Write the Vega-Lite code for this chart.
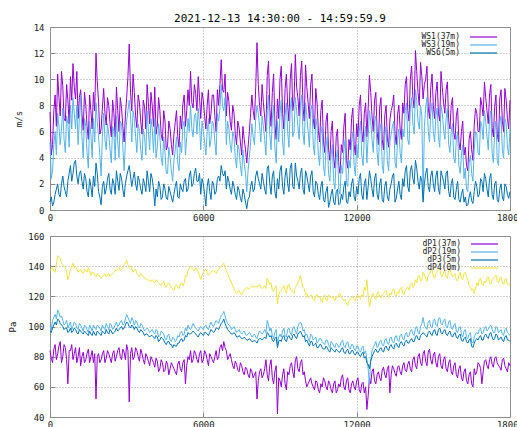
{
"$schema": "https://vega.github.io/schema/vega-lite/v6.json",
"background": "white",
"padding": {"left": 8, "top": 12, "right": 0, "bottom": 0},
"data": {"values": [
{"t":0,"a":7.5,"b":5.2,"c":0.6,"p1":84,"p2":100,"p3":97,"p4":137},
{"t":50,"a":4.2,"b":2.4,"c":1.0,"p1":79,"p2":98,"p3":96,"p4":138},
{"t":100,"a":5.0,"b":3.0,"c":0.3,"p1":76,"p2":104,"p3":99,"p4":139},
{"t":150,"a":7.6,"b":5.0,"c":0.6,"p1":85,"p2":106,"p3":101,"p4":137},
{"t":200,"a":8.8,"b":6.0,"c":1.2,"p1":88,"p2":108,"p3":103,"p4":136},
{"t":250,"a":6.4,"b":4.2,"c":1.6,"p1":78,"p2":105,"p3":101,"p4":141},
{"t":300,"a":10.4,"b":7.4,"c":2.0,"p1":82,"p2":111,"p3":105,"p4":147},
{"t":350,"a":8.6,"b":6.4,"c":1.2,"p1":87,"p2":109,"p3":104,"p4":146},
{"t":400,"a":7.2,"b":5.0,"c":1.0,"p1":90,"p2":106,"p3":102,"p4":145},
{"t":450,"a":10.6,"b":6.2,"c":2.0,"p1":76,"p2":107,"p3":101,"p4":142},
{"t":500,"a":9.5,"b":7.8,"c":2.6,"p1":80,"p2":104,"p3":100,"p4":141},
{"t":550,"a":7.0,"b":5.4,"c":1.8,"p1":88,"p2":101,"p3":98,"p4":140},
{"t":600,"a":6.8,"b":4.4,"c":1.4,"p1":86,"p2":102,"p3":99,"p4":139},
{"t":650,"a":9.6,"b":7.2,"c":1.0,"p1":78,"p2":104,"p3":99,"p4":136},
{"t":700,"a":8.4,"b":6.6,"c":2.2,"p1":62,"p2":99,"p3":96,"p4":131},
{"t":750,"a":6.6,"b":4.8,"c":2.8,"p1":84,"p2":101,"p3":97,"p4":134},
{"t":800,"a":10.2,"b":8.0,"c":3.4,"p1":84,"p2":103,"p3":99,"p4":138},
{"t":850,"a":8.4,"b":6.2,"c":2.2,"p1":88,"p2":98,"p3":96,"p4":140},
{"t":900,"a":11.2,"b":8.6,"c":2.8,"p1":78,"p2":100,"p3":97,"p4":142},
{"t":950,"a":9.4,"b":7.4,"c":3.6,"p1":82,"p2":103,"p3":99,"p4":139},
{"t":1000,"a":8.5,"b":6.2,"c":3.8,"p1":86,"p2":102,"p3":98,"p4":140},
{"t":1050,"a":10.6,"b":8.0,"c":2.6,"p1":76,"p2":99,"p3":96,"p4":138},
{"t":1100,"a":7.0,"b":5.0,"c":2.0,"p1":80,"p2":98,"p3":95,"p4":136},
{"t":1150,"a":8.6,"b":7.0,"c":2.8,"p1":86,"p2":102,"p3":98,"p4":137},
{"t":1200,"a":9.2,"b":8.8,"c":3.0,"p1":74,"p2":101,"p3":97,"p4":138},
{"t":1250,"a":7.4,"b":5.6,"c":2.2,"p1":80,"p2":99,"p3":96,"p4":136},
{"t":1300,"a":6.1,"b":4.0,"c":1.6,"p1":83,"p2":97,"p3":95,"p4":135},
{"t":1350,"a":9.0,"b":7.0,"c":2.8,"p1":76,"p2":101,"p3":97,"p4":138},
{"t":1400,"a":8.0,"b":6.4,"c":2.4,"p1":78,"p2":100,"p3":96,"p4":137},
{"t":1450,"a":6.4,"b":4.4,"c":1.4,"p1":82,"p2":98,"p3":95,"p4":136},
{"t":1500,"a":5.4,"b":3.2,"c":1.0,"p1":85,"p2":96,"p3":94,"p4":139},
{"t":1550,"a":8.8,"b":6.8,"c":2.4,"p1":76,"p2":101,"p3":97,"p4":137},
{"t":1600,"a":7.6,"b":5.8,"c":1.8,"p1":80,"p2":99,"p3":95,"p4":134},
{"t":1650,"a":6.2,"b":4.0,"c":1.0,"p1":84,"p2":97,"p3":94,"p4":136},
{"t":1700,"a":9.0,"b":7.0,"c":2.6,"p1":76,"p2":101,"p3":97,"p4":136},
{"t":1750,"a":7.6,"b":5.2,"c":1.8,"p1":82,"p2":99,"p3":95,"p4":134},
{"t":1800,"a":12.0,"b":8.2,"c":3.6,"p1":52,"p2":98,"p3":94,"p4":133},
{"t":1850,"a":9.8,"b":6.8,"c":2.8,"p1":80,"p2":101,"p3":97,"p4":135},
{"t":1900,"a":8.3,"b":5.6,"c":1.4,"p1":82,"p2":100,"p3":96,"p4":134},
{"t":1950,"a":5.8,"b":4.2,"c":1.0,"p1":76,"p2":99,"p3":95,"p4":133},
{"t":2000,"a":6.2,"b":2.6,"c":0.4,"p1":78,"p2":97,"p3":94,"p4":132},
{"t":2050,"a":7.8,"b":5.6,"c":1.8,"p1":82,"p2":101,"p3":97,"p4":133},
{"t":2100,"a":9.3,"b":7.4,"c":2.2,"p1":84,"p2":99,"p3":96,"p4":134},
{"t":2150,"a":7.4,"b":5.4,"c":1.2,"p1":76,"p2":98,"p3":95,"p4":135},
{"t":2200,"a":6.5,"b":4.6,"c":1.6,"p1":79,"p2":102,"p3":98,"p4":133},
{"t":2250,"a":8.6,"b":6.6,"c":2.4,"p1":84,"p2":100,"p3":96,"p4":134},
{"t":2300,"a":8.0,"b":5.8,"c":2.8,"p1":82,"p2":98,"p3":95,"p4":135},
{"t":2350,"a":6.6,"b":4.6,"c":1.6,"p1":79,"p2":102,"p3":98,"p4":133},
{"t":2400,"a":5.6,"b":3.6,"c":1.2,"p1":76,"p2":101,"p3":97,"p4":134},
{"t":2450,"a":8.4,"b":6.4,"c":2.4,"p1":82,"p2":98,"p3":95,"p4":135},
{"t":2500,"a":7.4,"b":6.0,"c":2.0,"p1":84,"p2":99,"p3":96,"p4":136},
{"t":2550,"a":5.6,"b":3.8,"c":1.2,"p1":77,"p2":101,"p3":97,"p4":137},
{"t":2600,"a":9.4,"b":7.2,"c":3.0,"p1":80,"p2":103,"p3":99,"p4":137},
{"t":2650,"a":7.6,"b":5.2,"c":2.2,"p1":84,"p2":100,"p3":97,"p4":138},
{"t":2700,"a":6.0,"b":4.0,"c":1.5,"p1":86,"p2":101,"p3":98,"p4":139},
{"t":2750,"a":8.6,"b":6.8,"c":2.8,"p1":80,"p2":103,"p3":99,"p4":137},
{"t":2800,"a":7.8,"b":6.6,"c":2.4,"p1":78,"p2":104,"p3":100,"p4":138},
{"t":2850,"a":6.4,"b":4.8,"c":1.6,"p1":85,"p2":101,"p3":98,"p4":139},
{"t":2900,"a":5.2,"b":3.0,"c":1.0,"p1":83,"p2":102,"p3":99,"p4":141},
{"t":2950,"a":7.2,"b":5.2,"c":2.0,"p1":78,"p2":105,"p3":101,"p4":142},
{"t":3000,"a":8.6,"b":6.8,"c":2.6,"p1":88,"p2":108,"p3":103,"p4":144},
{"t":3050,"a":10.2,"b":7.6,"c":3.0,"p1":84,"p2":106,"p3":102,"p4":141},
{"t":3100,"a":12.7,"b":8.4,"c":3.4,"p1":50,"p2":104,"p3":100,"p4":139},
{"t":3150,"a":9.0,"b":7.2,"c":2.6,"p1":82,"p2":102,"p3":99,"p4":140},
{"t":3200,"a":7.6,"b":5.2,"c":1.8,"p1":86,"p2":106,"p3":101,"p4":138},
{"t":3250,"a":10.4,"b":7.6,"c":2.4,"p1":78,"p2":104,"p3":100,"p4":136},
{"t":3300,"a":9.0,"b":7.0,"c":2.9,"p1":80,"p2":101,"p3":98,"p4":137},
{"t":3350,"a":7.2,"b":5.6,"c":2.0,"p1":86,"p2":104,"p3":100,"p4":138},
{"t":3400,"a":6.3,"b":4.4,"c":1.5,"p1":84,"p2":103,"p3":99,"p4":135},
{"t":3450,"a":8.8,"b":6.6,"c":2.6,"p1":80,"p2":100,"p3":97,"p4":134},
{"t":3500,"a":8.2,"b":6.0,"c":2.2,"p1":77,"p2":99,"p3":96,"p4":133},
{"t":3550,"a":6.8,"b":4.6,"c":1.6,"p1":85,"p2":102,"p3":98,"p4":135},
{"t":3600,"a":5.8,"b":3.8,"c":1.2,"p1":82,"p2":101,"p3":97,"p4":134},
{"t":3650,"a":8.4,"b":6.2,"c":2.4,"p1":78,"p2":99,"p3":96,"p4":133},
{"t":3700,"a":7.9,"b":5.6,"c":2.0,"p1":75,"p2":97,"p3":94,"p4":132},
{"t":3750,"a":6.2,"b":4.2,"c":1.4,"p1":82,"p2":98,"p3":95,"p4":132},
{"t":3800,"a":9.6,"b":7.6,"c":3.0,"p1":80,"p2":99,"p3":95,"p4":131},
{"t":3850,"a":8.2,"b":6.0,"c":2.2,"p1":77,"p2":98,"p3":94,"p4":131},
{"t":3900,"a":6.6,"b":4.6,"c":1.4,"p1":74,"p2":96,"p3":93,"p4":130},
{"t":3950,"a":9.0,"b":7.0,"c":2.8,"p1":80,"p2":97,"p3":94,"p4":130},
{"t":4000,"a":8.0,"b":6.2,"c":2.4,"p1":78,"p2":98,"p3":94,"p4":131},
{"t":4050,"a":6.4,"b":4.4,"c":1.6,"p1":76,"p2":96,"p3":93,"p4":130},
{"t":4100,"a":9.4,"b":7.0,"c":0.3,"p1":73,"p2":95,"p3":92,"p4":129},
{"t":4150,"a":5.8,"b":4.0,"c":1.6,"p1":79,"p2":98,"p3":94,"p4":131},
{"t":4200,"a":6.5,"b":4.8,"c":1.0,"p1":77,"p2":97,"p3":93,"p4":130},
{"t":4250,"a":8.6,"b":6.6,"c":2.2,"p1":70,"p2":93,"p3":90,"p4":129},
{"t":4300,"a":7.6,"b":5.6,"c":1.8,"p1":72,"p2":94,"p3":91,"p4":128},
{"t":4350,"a":5.8,"b":4.0,"c":0.8,"p1":78,"p2":97,"p3":93,"p4":127},
{"t":4400,"a":5.3,"b":3.4,"c":1.0,"p1":76,"p2":96,"p3":92,"p4":129},
{"t":4450,"a":7.6,"b":5.6,"c":2.0,"p1":70,"p2":95,"p3":91,"p4":130},
{"t":4500,"a":6.8,"b":4.4,"c":1.6,"p1":71,"p2":92,"p3":89,"p4":127},
{"t":4550,"a":4.6,"b":2.8,"c":0.9,"p1":77,"p2":91,"p3":88,"p4":126},
{"t":4600,"a":4.9,"b":2.8,"c":0.8,"p1":75,"p2":94,"p3":90,"p4":128},
{"t":4650,"a":6.8,"b":4.8,"c":1.8,"p1":68,"p2":95,"p3":90,"p4":129},
{"t":4700,"a":6.2,"b":4.0,"c":1.4,"p1":72,"p2":91,"p3":88,"p4":127},
{"t":4750,"a":5.0,"b":3.0,"c":1.0,"p1":76,"p2":90,"p3":88,"p4":126},
{"t":4800,"a":4.2,"b":2.2,"c":0.6,"p1":74,"p2":93,"p3":86,"p4":125},
{"t":4850,"a":5.8,"b":3.8,"c":1.2,"p1":72,"p2":92,"p3":88,"p4":124},
{"t":4900,"a":6.7,"b":4.6,"c":1.8,"p1":70,"p2":90,"p3":87,"p4":127},
{"t":4950,"a":7.6,"b":5.6,"c":2.2,"p1":68,"p2":91,"p3":87,"p4":128},
{"t":5000,"a":5.6,"b":3.6,"c":1.0,"p1":75,"p2":94,"p3":89,"p4":126},
{"t":5050,"a":4.8,"b":3.0,"c":0.9,"p1":77,"p2":93,"p3":89,"p4":125},
{"t":5100,"a":7.2,"b":5.2,"c":2.0,"p1":72,"p2":96,"p3":91,"p4":128},
{"t":5150,"a":6.2,"b":4.4,"c":1.6,"p1":70,"p2":97,"p3":92,"p4":129},
{"t":5200,"a":8.1,"b":6.4,"c":1.4,"p1":76,"p2":94,"p3":90,"p4":127},
{"t":5250,"a":8.8,"b":6.8,"c":2.2,"p1":78,"p2":95,"p3":91,"p4":129},
{"t":5300,"a":6.4,"b":4.2,"c":2.4,"p1":62,"p2":99,"p3":94,"p4":134},
{"t":5350,"a":7.6,"b":5.6,"c":1.4,"p1":74,"p2":97,"p3":93,"p4":133},
{"t":5400,"a":9.2,"b":7.0,"c":1.6,"p1":80,"p2":101,"p3":96,"p4":137},
{"t":5450,"a":8.0,"b":6.0,"c":2.6,"p1":78,"p2":99,"p3":95,"p4":139},
{"t":5500,"a":10.6,"b":8.0,"c":3.0,"p1":84,"p2":98,"p3":95,"p4":140},
{"t":5550,"a":8.2,"b":6.2,"c":1.8,"p1":76,"p2":100,"p3":96,"p4":139},
{"t":5600,"a":7.8,"b":5.6,"c":2.0,"p1":78,"p2":102,"p3":97,"p4":138},
{"t":5650,"a":9.6,"b":7.2,"c":2.8,"p1":84,"p2":100,"p3":96,"p4":137},
{"t":5700,"a":8.9,"b":7.4,"c":3.2,"p1":82,"p2":99,"p3":95,"p4":139},
{"t":5750,"a":7.6,"b":5.8,"c":2.2,"p1":78,"p2":98,"p3":94,"p4":138},
{"t":5800,"a":10.2,"b":7.8,"c":2.2,"p1":76,"p2":97,"p3":93,"p4":136},
{"t":5850,"a":8.6,"b":6.6,"c":2.8,"p1":82,"p2":99,"p3":95,"p4":134},
{"t":5900,"a":7.0,"b":4.6,"c":1.2,"p1":84,"p2":100,"p3":96,"p4":131},
{"t":5950,"a":9.0,"b":6.8,"c":2.4,"p1":76,"p2":99,"p3":95,"p4":134},
{"t":6000,"a":8.4,"b":6.0,"c":2.0,"p1":78,"p2":98,"p3":94,"p4":136},
{"t":6050,"a":7.2,"b":5.2,"c":1.2,"p1":84,"p2":100,"p3":96,"p4":137},
{"t":6100,"a":6.2,"b":4.2,"c":0.3,"p1":82,"p2":101,"p3":96,"p4":138},
{"t":6150,"a":8.0,"b":6.0,"c":1.8,"p1":78,"p2":99,"p3":95,"p4":136},
{"t":6200,"a":9.2,"b":7.0,"c":2.4,"p1":74,"p2":98,"p3":94,"p4":134},
{"t":6250,"a":6.6,"b":4.8,"c":1.4,"p1":82,"p2":101,"p3":96,"p4":135},
{"t":6300,"a":7.4,"b":5.4,"c":0.8,"p1":80,"p2":103,"p3":98,"p4":136},
{"t":6350,"a":8.8,"b":6.8,"c":2.2,"p1":78,"p2":101,"p3":97,"p4":137},
{"t":6400,"a":8.8,"b":6.6,"c":2.0,"p1":76,"p2":100,"p3":96,"p4":137},
{"t":6450,"a":7.2,"b":5.2,"c":1.2,"p1":80,"p2":102,"p3":97,"p4":136},
{"t":6500,"a":6.0,"b":4.2,"c":1.4,"p1":84,"p2":104,"p3":99,"p4":135},
{"t":6550,"a":9.2,"b":7.4,"c":2.4,"p1":78,"p2":103,"p3":99,"p4":137},
{"t":6600,"a":8.0,"b":6.8,"c":2.6,"p1":80,"p2":102,"p3":98,"p4":138},
{"t":6650,"a":9.6,"b":7.8,"c":2.2,"p1":86,"p2":105,"p3":100,"p4":139},
{"t":6700,"a":11.5,"b":9.6,"c":3.4,"p1":88,"p2":107,"p3":102,"p4":140},
{"t":6750,"a":9.2,"b":8.0,"c":2.8,"p1":84,"p2":108,"p3":103,"p4":141},
{"t":6800,"a":9.0,"b":7.6,"c":2.6,"p1":90,"p2":110,"p3":105,"p4":142},
{"t":6850,"a":10.4,"b":8.6,"c":3.0,"p1":86,"p2":107,"p3":102,"p4":139},
{"t":6900,"a":7.2,"b":5.0,"c":1.6,"p1":84,"p2":104,"p3":100,"p4":137},
{"t":6950,"a":9.0,"b":6.8,"c":2.6,"p1":78,"p2":102,"p3":98,"p4":135},
{"t":7000,"a":8.3,"b":6.2,"c":2.2,"p1":80,"p2":101,"p3":97,"p4":133},
{"t":7050,"a":6.8,"b":5.0,"c":1.6,"p1":82,"p2":100,"p3":96,"p4":131},
{"t":7100,"a":6.1,"b":4.4,"c":1.2,"p1":78,"p2":98,"p3":95,"p4":129},
{"t":7150,"a":8.0,"b":6.0,"c":2.2,"p1":74,"p2":99,"p3":95,"p4":127},
{"t":7200,"a":7.4,"b":5.6,"c":1.8,"p1":72,"p2":100,"p3":96,"p4":125},
{"t":7250,"a":5.8,"b":4.0,"c":1.2,"p1":77,"p2":98,"p3":95,"p4":123},
{"t":7300,"a":5.0,"b":3.2,"c":0.8,"p1":75,"p2":96,"p3":93,"p4":122},
{"t":7350,"a":6.8,"b":5.0,"c":1.8,"p1":71,"p2":97,"p3":93,"p4":123},
{"t":7400,"a":6.3,"b":4.6,"c":1.5,"p1":70,"p2":98,"p3":94,"p4":124},
{"t":7450,"a":5.2,"b":3.4,"c":0.9,"p1":76,"p2":96,"p3":93,"p4":122},
{"t":7500,"a":4.2,"b":2.6,"c":0.6,"p1":74,"p2":95,"p3":92,"p4":121},
{"t":7550,"a":6.4,"b":4.6,"c":1.6,"p1":70,"p2":96,"p3":92,"p4":123},
{"t":7600,"a":5.4,"b":3.6,"c":1.2,"p1":68,"p2":97,"p3":93,"p4":124},
{"t":7650,"a":4.6,"b":2.8,"c":0.6,"p1":73,"p2":95,"p3":92,"p4":125},
{"t":7700,"a":3.6,"b":1.4,"c":0.1,"p1":72,"p2":94,"p3":91,"p4":126},
{"t":7750,"a":4.8,"b":3.0,"c":0.8,"p1":68,"p2":95,"p3":91,"p4":125},
{"t":7800,"a":6.0,"b":4.0,"c":1.0,"p1":66,"p2":96,"p3":92,"p4":125},
{"t":7850,"a":7.4,"b":5.2,"c":1.8,"p1":72,"p2":95,"p3":91,"p4":126},
{"t":7900,"a":8.8,"b":6.6,"c":2.2,"p1":70,"p2":93,"p3":90,"p4":127},
{"t":7950,"a":7.6,"b":5.6,"c":1.4,"p1":66,"p2":94,"p3":90,"p4":126},
{"t":8000,"a":6.9,"b":5.0,"c":1.6,"p1":68,"p2":95,"p3":91,"p4":126},
{"t":8050,"a":9.4,"b":7.0,"c":2.6,"p1":70,"p2":93,"p3":90,"p4":127},
{"t":8100,"a":12.8,"b":8.0,"c":3.0,"p1":52,"p2":92,"p3":89,"p4":126},
{"t":8150,"a":9.6,"b":7.4,"c":2.4,"p1":64,"p2":95,"p3":91,"p4":127},
{"t":8200,"a":8.0,"b":6.4,"c":2.0,"p1":70,"p2":97,"p3":92,"p4":128},
{"t":8250,"a":7.2,"b":5.2,"c":1.6,"p1":72,"p2":96,"p3":92,"p4":126},
{"t":8300,"a":9.6,"b":7.2,"c":2.8,"p1":66,"p2":95,"p3":91,"p4":125},
{"t":8350,"a":8.2,"b":6.4,"c":2.2,"p1":68,"p2":96,"p3":92,"p4":126},
{"t":8400,"a":7.1,"b":5.4,"c":1.6,"p1":72,"p2":98,"p3":93,"p4":127},
{"t":8450,"a":6.0,"b":4.2,"c":1.2,"p1":78,"p2":96,"p3":92,"p4":125},
{"t":8500,"a":10.3,"b":7.6,"c":3.2,"p1":68,"p2":104,"p3":96,"p4":132},
{"t":8550,"a":11.4,"b":8.8,"c":3.4,"p1":64,"p2":101,"p3":95,"p4":130},
{"t":8600,"a":7.8,"b":5.8,"c":2.0,"p1":74,"p2":97,"p3":93,"p4":128},
{"t":8650,"a":6.4,"b":4.6,"c":1.2,"p1":78,"p2":99,"p3":94,"p4":129},
{"t":8700,"a":9.0,"b":7.0,"c":2.6,"p1":66,"p2":94,"p3":91,"p4":124},
{"t":8750,"a":10.4,"b":8.0,"c":3.0,"p1":62,"p2":92,"p3":90,"p4":123},
{"t":8800,"a":6.6,"b":4.8,"c":1.4,"p1":70,"p2":96,"p3":92,"p4":126},
{"t":8850,"a":5.4,"b":3.6,"c":0.9,"p1":74,"p2":98,"p3":93,"p4":127},
{"t":8900,"a":8.5,"b":6.8,"c":2.4,"p1":42,"p2":88,"p3":86,"p4":115},
{"t":8950,"a":7.0,"b":5.2,"c":1.6,"p1":66,"p2":93,"p3":90,"p4":121},
{"t":9000,"a":10.0,"b":7.4,"c":3.0,"p1":64,"p2":95,"p3":91,"p4":123},
{"t":9050,"a":11.0,"b":8.4,"c":3.4,"p1":60,"p2":93,"p3":90,"p4":124},
{"t":9100,"a":7.4,"b":5.2,"c":1.8,"p1":68,"p2":97,"p3":93,"p4":126},
{"t":9150,"a":6.2,"b":4.2,"c":1.2,"p1":72,"p2":99,"p3":94,"p4":127},
{"t":9200,"a":9.3,"b":7.2,"c":2.6,"p1":62,"p2":94,"p3":91,"p4":124},
{"t":9250,"a":10.4,"b":8.2,"c":3.2,"p1":58,"p2":93,"p3":90,"p4":122},
{"t":9300,"a":8.0,"b":6.0,"c":2.0,"p1":70,"p2":98,"p3":93,"p4":127},
{"t":9350,"a":6.8,"b":4.8,"c":1.4,"p1":68,"p2":99,"p3":94,"p4":128},
{"t":9400,"a":10.0,"b":7.8,"c":3.2,"p1":74,"p2":96,"p3":92,"p4":125},
{"t":9450,"a":11.2,"b":8.6,"c":3.6,"p1":76,"p2":94,"p3":91,"p4":124},
{"t":9500,"a":7.6,"b":5.6,"c":1.8,"p1":70,"p2":99,"p3":94,"p4":123},
{"t":9550,"a":8.4,"b":6.0,"c":1.6,"p1":66,"p2":100,"p3":95,"p4":122},
{"t":9600,"a":11.9,"b":8.6,"c":3.6,"p1":78,"p2":97,"p3":93,"p4":126},
{"t":9650,"a":9.4,"b":7.6,"c":2.6,"p1":80,"p2":95,"p3":92,"p4":127},
{"t":9700,"a":8.6,"b":6.4,"c":2.2,"p1":72,"p2":100,"p3":95,"p4":129},
{"t":9750,"a":7.2,"b":5.4,"c":1.6,"p1":70,"p2":102,"p3":96,"p4":131},
{"t":9800,"a":10.3,"b":8.0,"c":2.8,"p1":76,"p2":103,"p3":97,"p4":134},
{"t":9850,"a":11.4,"b":8.8,"c":3.2,"p1":78,"p2":101,"p3":95,"p4":130},
{"t":9900,"a":7.9,"b":5.8,"c":1.6,"p1":68,"p2":97,"p3":93,"p4":126},
{"t":9950,"a":6.8,"b":5.0,"c":1.2,"p1":70,"p2":98,"p3":94,"p4":125},
{"t":10000,"a":11.1,"b":8.2,"c":3.0,"p1":64,"p2":94,"p3":90,"p4":121},
{"t":10050,"a":9.4,"b":7.2,"c":2.6,"p1":60,"p2":95,"p3":91,"p4":122},
{"t":10100,"a":8.2,"b":6.0,"c":2.0,"p1":62,"p2":92,"p3":89,"p4":119},
{"t":10150,"a":7.0,"b":4.8,"c":1.4,"p1":64,"p2":90,"p3":87,"p4":120},
{"t":10200,"a":9.6,"b":7.6,"c":2.6,"p1":66,"p2":95,"p3":90,"p4":121},
{"t":10250,"a":10.4,"b":8.0,"c":3.0,"p1":62,"p2":94,"p3":90,"p4":120},
{"t":10300,"a":7.0,"b":5.0,"c":1.4,"p1":60,"p2":91,"p3":87,"p4":118},
{"t":10350,"a":6.2,"b":4.2,"c":1.0,"p1":58,"p2":92,"p3":88,"p4":117},
{"t":10400,"a":9.3,"b":7.0,"c":2.2,"p1":64,"p2":93,"p3":89,"p4":120},
{"t":10450,"a":8.2,"b":6.4,"c":2.0,"p1":63,"p2":89,"p3":86,"p4":121},
{"t":10500,"a":6.1,"b":4.2,"c":1.2,"p1":58,"p2":90,"p3":86,"p4":119},
{"t":10550,"a":5.2,"b":3.4,"c":0.8,"p1":56,"p2":92,"p3":88,"p4":120},
{"t":10600,"a":7.6,"b":5.8,"c":1.8,"p1":62,"p2":92,"p3":88,"p4":117},
{"t":10650,"a":8.4,"b":6.4,"c":2.2,"p1":60,"p2":90,"p3":86,"p4":116},
{"t":10700,"a":5.2,"b":3.4,"c":0.8,"p1":66,"p2":89,"p3":85,"p4":120},
{"t":10750,"a":4.4,"b":2.6,"c":0.6,"p1":64,"p2":88,"p3":85,"p4":121},
{"t":10800,"a":6.8,"b":4.8,"c":1.4,"p1":60,"p2":91,"p3":87,"p4":118},
{"t":10850,"a":7.4,"b":5.6,"c":1.8,"p1":58,"p2":91,"p3":86,"p4":117},
{"t":10900,"a":4.6,"b":2.8,"c":0.2,"p1":64,"p2":88,"p3":84,"p4":121},
{"t":10950,"a":3.8,"b":2.2,"c":0.6,"p1":62,"p2":86,"p3":83,"p4":120},
{"t":11000,"a":6.0,"b":4.2,"c":1.2,"p1":58,"p2":90,"p3":86,"p4":119},
{"t":11050,"a":6.8,"b":5.0,"c":1.6,"p1":56,"p2":89,"p3":85,"p4":120},
{"t":11100,"a":4.0,"b":2.2,"c":0.6,"p1":62,"p2":87,"p3":84,"p4":118},
{"t":11150,"a":3.2,"b":1.6,"c":0.4,"p1":64,"p2":86,"p3":83,"p4":117},
{"t":11200,"a":5.6,"b":4.0,"c":1.4,"p1":56,"p2":89,"p3":85,"p4":120},
{"t":11250,"a":6.2,"b":4.6,"c":1.6,"p1":58,"p2":88,"p3":84,"p4":119},
{"t":11300,"a":3.4,"b":1.6,"c":0.4,"p1":62,"p2":86,"p3":83,"p4":121},
{"t":11350,"a":2.8,"b":1.2,"c":0.5,"p1":60,"p2":87,"p3":83,"p4":122},
{"t":11400,"a":5.0,"b":3.4,"c":1.2,"p1":66,"p2":90,"p3":85,"p4":119},
{"t":11450,"a":4.4,"b":2.8,"c":0.8,"p1":68,"p2":91,"p3":86,"p4":118},
{"t":11500,"a":6.4,"b":4.6,"c":1.8,"p1":60,"p2":87,"p3":83,"p4":117},
{"t":11550,"a":7.4,"b":5.4,"c":2.2,"p1":58,"p2":86,"p3":82,"p4":118},
{"t":11600,"a":3.8,"b":2.0,"c":0.6,"p1":64,"p2":89,"p3":84,"p4":115},
{"t":11650,"a":3.2,"b":1.8,"c":0.5,"p1":66,"p2":90,"p3":85,"p4":114},
{"t":11700,"a":5.4,"b":3.8,"c":1.4,"p1":58,"p2":86,"p3":82,"p4":117},
{"t":11750,"a":4.6,"b":3.2,"c":1.0,"p1":56,"p2":85,"p3":82,"p4":118},
{"t":11800,"a":7.0,"b":5.2,"c":2.0,"p1":62,"p2":88,"p3":84,"p4":119},
{"t":11850,"a":7.8,"b":6.0,"c":2.4,"p1":64,"p2":88,"p3":84,"p4":120},
{"t":11900,"a":5.0,"b":3.4,"c":1.0,"p1":60,"p2":85,"p3":82,"p4":118},
{"t":11950,"a":4.2,"b":2.6,"c":0.7,"p1":58,"p2":84,"p3":81,"p4":117},
{"t":12000,"a":6.6,"b":5.0,"c":1.8,"p1":64,"p2":87,"p3":83,"p4":120},
{"t":12050,"a":5.6,"b":4.0,"c":1.2,"p1":66,"p2":87,"p3":83,"p4":121},
{"t":12100,"a":8.0,"b":6.0,"c":2.4,"p1":58,"p2":84,"p3":81,"p4":119},
{"t":12150,"a":8.8,"b":6.8,"c":2.8,"p1":56,"p2":83,"p3":80,"p4":118},
{"t":12200,"a":6.0,"b":4.2,"c":1.2,"p1":62,"p2":86,"p3":82,"p4":121},
{"t":12250,"a":5.2,"b":3.4,"c":0.8,"p1":63,"p2":87,"p3":83,"p4":120},
{"t":12300,"a":7.4,"b":5.6,"c":2.0,"p1":56,"p2":82,"p3":79,"p4":126},
{"t":12350,"a":8.2,"b":6.4,"c":2.4,"p1":60,"p2":84,"p3":80,"p4":124},
{"t":12400,"a":5.6,"b":3.6,"c":0.8,"p1":45,"p2":78,"p3":76,"p4":131},
{"t":12450,"a":7.8,"b":5.6,"c":1.8,"p1":54,"p2":72,"p3":75,"p4":120},
{"t":12500,"a":10.3,"b":7.6,"c":3.0,"p1":66,"p2":62,"p3":72,"p4":113},
{"t":12550,"a":9.0,"b":6.8,"c":2.4,"p1":62,"p2":78,"p3":77,"p4":118},
{"t":12600,"a":7.2,"b":5.4,"c":1.6,"p1":70,"p2":84,"p3":80,"p4":121},
{"t":12650,"a":6.0,"b":4.4,"c":1.0,"p1":72,"p2":86,"p3":82,"p4":122},
{"t":12700,"a":8.4,"b":6.8,"c":2.4,"p1":64,"p2":88,"p3":84,"p4":119},
{"t":12750,"a":9.0,"b":7.2,"c":2.8,"p1":62,"p2":90,"p3":85,"p4":118},
{"t":12800,"a":6.0,"b":4.4,"c":1.2,"p1":68,"p2":86,"p3":83,"p4":122},
{"t":12850,"a":5.0,"b":3.4,"c":0.8,"p1":70,"p2":87,"p3":83,"p4":123},
{"t":12900,"a":7.8,"b":6.0,"c":2.0,"p1":66,"p2":90,"p3":85,"p4":120},
{"t":12950,"a":8.6,"b":6.6,"c":2.4,"p1":64,"p2":91,"p3":86,"p4":119},
{"t":13000,"a":5.4,"b":3.4,"c":0.8,"p1":71,"p2":88,"p3":84,"p4":121},
{"t":13050,"a":4.6,"b":2.8,"c":0.6,"p1":73,"p2":87,"p3":83,"p4":122},
{"t":13100,"a":7.2,"b":5.6,"c":1.8,"p1":68,"p2":91,"p3":86,"p4":123},
{"t":13150,"a":8.0,"b":6.4,"c":2.2,"p1":66,"p2":92,"p3":87,"p4":124},
{"t":13200,"a":5.5,"b":3.8,"c":1.0,"p1":72,"p2":89,"p3":85,"p4":120},
{"t":13250,"a":4.8,"b":3.0,"c":0.7,"p1":74,"p2":88,"p3":84,"p4":119},
{"t":13300,"a":6.9,"b":5.2,"c":1.6,"p1":56,"p2":92,"p3":87,"p4":122},
{"t":13350,"a":7.6,"b":5.8,"c":2.0,"p1":68,"p2":93,"p3":88,"p4":121},
{"t":13400,"a":8.0,"b":6.4,"c":2.6,"p1":74,"p2":90,"p3":86,"p4":124},
{"t":13450,"a":8.8,"b":6.8,"c":2.8,"p1":72,"p2":89,"p3":85,"p4":125},
{"t":13500,"a":5.8,"b":3.6,"c":0.6,"p1":69,"p2":93,"p3":88,"p4":121},
{"t":13550,"a":5.0,"b":3.2,"c":0.9,"p1":67,"p2":94,"p3":89,"p4":120},
{"t":13600,"a":7.3,"b":5.4,"c":1.6,"p1":73,"p2":91,"p3":87,"p4":123},
{"t":13650,"a":8.0,"b":6.2,"c":2.2,"p1":74,"p2":90,"p3":86,"p4":122},
{"t":13700,"a":6.2,"b":4.4,"c":1.2,"p1":70,"p2":94,"p3":89,"p4":125},
{"t":13750,"a":5.4,"b":3.6,"c":0.8,"p1":68,"p2":95,"p3":90,"p4":126},
{"t":13800,"a":8.2,"b":6.2,"c":2.4,"p1":74,"p2":92,"p3":88,"p4":122},
{"t":13850,"a":7.4,"b":5.6,"c":1.8,"p1":76,"p2":91,"p3":87,"p4":121},
{"t":13900,"a":9.6,"b":7.6,"c":3.0,"p1":71,"p2":95,"p3":90,"p4":124},
{"t":13950,"a":10.2,"b":8.2,"c":3.4,"p1":70,"p2":96,"p3":91,"p4":125},
{"t":14000,"a":7.6,"b":5.4,"c":1.8,"p1":75,"p2":93,"p3":89,"p4":126},
{"t":14050,"a":6.8,"b":5.0,"c":1.4,"p1":77,"p2":94,"p3":89,"p4":124},
{"t":14100,"a":10.0,"b":7.8,"c":3.0,"p1":72,"p2":97,"p3":91,"p4":128},
{"t":14150,"a":11.0,"b":8.6,"c":3.4,"p1":70,"p2":98,"p3":92,"p4":129},
{"t":14200,"a":8.6,"b":6.6,"c":2.4,"p1":78,"p2":95,"p3":90,"p4":126},
{"t":14250,"a":7.8,"b":5.8,"c":2.0,"p1":80,"p2":94,"p3":90,"p4":127},
{"t":14300,"a":12.2,"b":9.2,"c":3.8,"p1":74,"p2":99,"p3":93,"p4":131},
{"t":14350,"a":10.6,"b":8.4,"c":3.2,"p1":72,"p2":100,"p3":94,"p4":129},
{"t":14400,"a":9.0,"b":6.8,"c":2.2,"p1":80,"p2":96,"p3":92,"p4":133},
{"t":14450,"a":8.0,"b":6.2,"c":1.6,"p1":82,"p2":95,"p3":91,"p4":134},
{"t":14500,"a":11.3,"b":8.0,"c":2.6,"p1":76,"p2":100,"p3":94,"p4":130},
{"t":14550,"a":10.2,"b":7.2,"c":2.2,"p1":74,"p2":102,"p3":95,"p4":131},
{"t":14600,"a":8.5,"b":0.8,"c":0.6,"p1":82,"p2":106,"p3":96,"p4":136},
{"t":14650,"a":9.6,"b":6.4,"c":2.0,"p1":84,"p2":101,"p3":95,"p4":134},
{"t":14700,"a":10.0,"b":7.8,"c":2.8,"p1":77,"p2":99,"p3":94,"p4":132},
{"t":14750,"a":11.0,"b":8.6,"c":3.2,"p1":74,"p2":98,"p3":93,"p4":130},
{"t":14800,"a":7.9,"b":6.0,"c":1.8,"p1":83,"p2":103,"p3":96,"p4":134},
{"t":14850,"a":7.0,"b":5.2,"c":1.4,"p1":85,"p2":104,"p3":97,"p4":135},
{"t":14900,"a":9.4,"b":7.4,"c":2.6,"p1":78,"p2":100,"p3":95,"p4":137},
{"t":14950,"a":10.4,"b":8.2,"c":3.0,"p1":75,"p2":99,"p3":94,"p4":138},
{"t":15000,"a":8.0,"b":6.0,"c":2.0,"p1":81,"p2":104,"p3":97,"p4":133},
{"t":15050,"a":7.0,"b":5.2,"c":1.4,"p1":83,"p2":105,"p3":98,"p4":132},
{"t":15100,"a":9.0,"b":7.2,"c":2.6,"p1":76,"p2":101,"p3":95,"p4":135},
{"t":15150,"a":9.8,"b":7.8,"c":3.0,"p1":73,"p2":100,"p3":94,"p4":136},
{"t":15200,"a":7.4,"b":5.6,"c":1.6,"p1":80,"p2":105,"p3":98,"p4":138},
{"t":15250,"a":6.8,"b":4.8,"c":1.2,"p1":82,"p2":106,"p3":99,"p4":139},
{"t":15300,"a":10.6,"b":8.0,"c":3.0,"p1":74,"p2":102,"p3":96,"p4":134},
{"t":15350,"a":9.4,"b":7.4,"c":2.6,"p1":72,"p2":101,"p3":95,"p4":133},
{"t":15400,"a":8.2,"b":6.2,"c":2.2,"p1":78,"p2":104,"p3":97,"p4":136},
{"t":15450,"a":7.4,"b":5.4,"c":1.6,"p1":80,"p2":105,"p3":98,"p4":137},
{"t":15500,"a":9.2,"b":7.0,"c":2.8,"p1":72,"p2":100,"p3":95,"p4":133},
{"t":15550,"a":9.8,"b":7.8,"c":3.0,"p1":70,"p2":99,"p3":94,"p4":132},
{"t":15600,"a":6.8,"b":5.0,"c":1.4,"p1":76,"p2":103,"p3":96,"p4":137},
{"t":15650,"a":6.2,"b":4.4,"c":1.0,"p1":78,"p2":104,"p3":97,"p4":138},
{"t":15700,"a":8.0,"b":6.0,"c":2.0,"p1":70,"p2":99,"p3":94,"p4":135},
{"t":15750,"a":8.6,"b":6.6,"c":2.4,"p1":68,"p2":98,"p3":93,"p4":133},
{"t":15800,"a":5.9,"b":4.0,"c":1.0,"p1":74,"p2":101,"p3":95,"p4":134},
{"t":15850,"a":5.4,"b":3.6,"c":0.8,"p1":76,"p2":102,"p3":96,"p4":135},
{"t":15900,"a":7.2,"b":5.4,"c":1.6,"p1":68,"p2":97,"p3":93,"p4":131},
{"t":15950,"a":7.8,"b":6.0,"c":2.2,"p1":66,"p2":96,"p3":92,"p4":130},
{"t":16000,"a":5.2,"b":3.4,"c":0.8,"p1":72,"p2":99,"p3":94,"p4":134},
{"t":16050,"a":4.6,"b":2.8,"c":0.6,"p1":74,"p2":100,"p3":95,"p4":136},
{"t":16100,"a":6.0,"b":4.2,"c":1.2,"p1":66,"p2":95,"p3":91,"p4":132},
{"t":16150,"a":6.8,"b":5.0,"c":1.6,"p1":64,"p2":93,"p3":90,"p4":131},
{"t":16200,"a":4.2,"b":2.4,"c":0.6,"p1":70,"p2":97,"p3":92,"p4":135},
{"t":16250,"a":4.8,"b":3.2,"c":1.0,"p1":72,"p2":98,"p3":93,"p4":136},
{"t":16300,"a":3.4,"b":1.6,"c":0.3,"p1":64,"p2":93,"p3":90,"p4":133},
{"t":16350,"a":3.0,"b":1.4,"c":0.4,"p1":62,"p2":92,"p3":89,"p4":131},
{"t":16400,"a":5.4,"b":3.6,"c":1.0,"p1":68,"p2":95,"p3":91,"p4":127},
{"t":16450,"a":6.0,"b":4.2,"c":1.4,"p1":70,"p2":96,"p3":92,"p4":126},
{"t":16500,"a":4.6,"b":2.8,"c":0.7,"p1":62,"p2":90,"p3":87,"p4":124},
{"t":16550,"a":3.8,"b":2.2,"c":0.5,"p1":60,"p2":89,"p3":86,"p4":125},
{"t":16600,"a":6.5,"b":4.6,"c":1.4,"p1":72,"p2":93,"p3":89,"p4":122},
{"t":16650,"a":7.8,"b":6.0,"c":2.2,"p1":68,"p2":95,"p3":91,"p4":125},
{"t":16700,"a":7.4,"b":5.8,"c":1.8,"p1":70,"p2":96,"p3":92,"p4":129},
{"t":16750,"a":6.0,"b":4.4,"c":1.0,"p1":76,"p2":95,"p3":91,"p4":127},
{"t":16800,"a":6.0,"b":4.2,"c":1.2,"p1":75,"p2":98,"p3":93,"p4":131},
{"t":16850,"a":8.6,"b":6.8,"c":2.4,"p1":72,"p2":99,"p3":94,"p4":132},
{"t":16900,"a":8.0,"b":6.4,"c":2.2,"p1":62,"p2":95,"p3":91,"p4":128},
{"t":16950,"a":7.2,"b":5.4,"c":1.4,"p1":70,"p2":96,"p3":91,"p4":127},
{"t":17000,"a":9.8,"b":7.6,"c":2.8,"p1":77,"p2":99,"p3":94,"p4":130},
{"t":17050,"a":8.6,"b":6.8,"c":2.4,"p1":78,"p2":100,"p3":95,"p4":129},
{"t":17100,"a":7.6,"b":5.6,"c":1.6,"p1":74,"p2":97,"p3":93,"p4":132},
{"t":17150,"a":6.6,"b":4.6,"c":1.0,"p1":72,"p2":98,"p3":92,"p4":133},
{"t":17200,"a":8.8,"b":7.0,"c":2.4,"p1":78,"p2":100,"p3":95,"p4":129},
{"t":17250,"a":9.6,"b":7.6,"c":2.8,"p1":80,"p2":101,"p3":96,"p4":128},
{"t":17300,"a":6.3,"b":4.4,"c":1.2,"p1":75,"p2":98,"p3":93,"p4":131},
{"t":17350,"a":5.6,"b":3.6,"c":0.8,"p1":73,"p2":96,"p3":91,"p4":132},
{"t":17400,"a":7.9,"b":6.0,"c":2.0,"p1":79,"p2":96,"p3":92,"p4":133},
{"t":17450,"a":8.8,"b":6.8,"c":2.2,"p1":80,"p2":100,"p3":95,"p4":134},
{"t":17500,"a":5.8,"b":3.8,"c":0.8,"p1":76,"p2":99,"p3":94,"p4":130},
{"t":17550,"a":5.2,"b":3.4,"c":0.6,"p1":74,"p2":96,"p3":91,"p4":129},
{"t":17600,"a":8.5,"b":6.6,"c":1.6,"p1":73,"p2":97,"p3":92,"p4":132},
{"t":17650,"a":9.2,"b":7.2,"c":2.0,"p1":71,"p2":98,"p3":93,"p4":133},
{"t":17700,"a":6.8,"b":4.6,"c":1.0,"p1":78,"p2":95,"p3":91,"p4":129},
{"t":17750,"a":6.0,"b":4.0,"c":0.7,"p1":79,"p2":94,"p3":90,"p4":128},
{"t":17800,"a":9.3,"b":7.0,"c":2.0,"p1":74,"p2":98,"p3":93,"p4":131},
{"t":17850,"a":8.4,"b":6.6,"c":1.8,"p1":72,"p2":99,"p3":94,"p4":132},
{"t":17900,"a":7.0,"b":4.8,"c":1.2,"p1":70,"p2":96,"p3":91,"p4":128},
{"t":17950,"a":6.2,"b":4.2,"c":0.9,"p1":76,"p2":95,"p3":91,"p4":128},
{"t":18000,"a":8.4,"b":6.2,"c":1.4,"p1":74,"p2":94,"p3":90,"p4":127}
]},
"spacing": 8,
"vconcat": [
{
"title": {"text": "2021-12-13 14:30:00 - 14:59:59.9", "frame": "group", "anchor": "middle", "offset": -1, "font": "DejaVu Sans Mono", "fontSize": 11, "fontWeight": "normal", "color": "#000000"},
"width": 460, "height": 183,
"transform": [{"fold": ["a", "b", "c"], "as": ["k", "v"]}],
"mark": {"type": "line", "strokeWidth": 1},
"encoding": {
"x": {"field": "t", "type": "quantitative", "scale": {"domain": [0, 18000], "nice": false}, "axis": {"values": [0, 6000, 12000, 18000], "format": "d", "title": null}},
"y": {"field": "v", "type": "quantitative", "scale": {"domain": [0, 14], "nice": false}, "axis": {"values": [0, 2, 4, 6, 8, 10, 12, 14], "title": "m/s"}},
"color": {"field": "k", "type": "nominal", "scale": {"domain": ["a", "b", "c"], "range": ["#9400d3", "#56b4e9", "#0072b2"]},
"legend": {"legendX": 416, "legendY": 6, "labelExpr": "datum.label == 'a' ? 'WS1(37m)' : datum.label == 'b' ? 'WS3(19m)' : 'WS6(5m)'"}}
}
},
{
"width": 460, "height": 181,
"transform": [{"fold": ["p1", "p2", "p3", "p4"], "as": ["k", "v"]}],
"mark": {"type": "line", "strokeWidth": 1},
"encoding": {
"x": {"field": "t", "type": "quantitative", "scale": {"domain": [0, 18000], "nice": false}, "axis": {"values": [0, 6000, 12000, 18000], "format": "d", "title": null}},
"y": {"field": "v", "type": "quantitative", "scale": {"domain": [40, 160], "nice": false}, "axis": {"values": [40, 60, 80, 100, 120, 140, 160], "title": "Pa"}},
"color": {"field": "k", "type": "nominal", "scale": {"domain": ["p1", "p2", "p3", "p4"], "range": ["#9400d3", "#56b4e9", "#0072b2", "#f0e442"]},
"legend": {"legendX": 417, "legendY": 4, "labelExpr": "datum.label == 'p1' ? 'dP1(37m)' : datum.label == 'p2' ? 'dP2(19m)' : datum.label == 'p3' ? 'dP3(5m)' : 'dP4(0m)'"}}
}
}
],
"resolve": {"scale": {"color": "independent"}, "legend": {"color": "independent"}},
"config": {
"view": {"stroke": "#888888", "strokeWidth": 1},
"axis": {"domain": false, "grid": true, "gridColor": "#a0a0a0", "gridDash": [1, 2], "gridWidth": 1, "gridOpacity": 1, "ticks": true, "tickSize": -5, "tickColor": "#888888", "labelFont": "DejaVu Sans Mono", "labelFontSize": 9, "labelColor": "#222222", "labelFlush": false, "labelOverlap": false, "titleFont": "DejaVu Sans Mono", "titleFontSize": 9, "titleFontWeight": "normal", "titleColor": "#222222"},
"axisX": {"labelPadding": 8},
"axisY": {"labelPadding": 11, "titlePadding": 10},
"legend": {"orient": "none", "title": null, "padding": 0, "labelFont": "DejaVu Sans Mono", "labelFontSize": 8, "labelColor": "#222222", "symbolType": "M0,0H9", "symbolSize": 36, "symbolStrokeWidth": 1.2, "rowPadding": -1, "labelAlign": "right", "labelOffset": -14, "labelLimit": 0}
}
}
